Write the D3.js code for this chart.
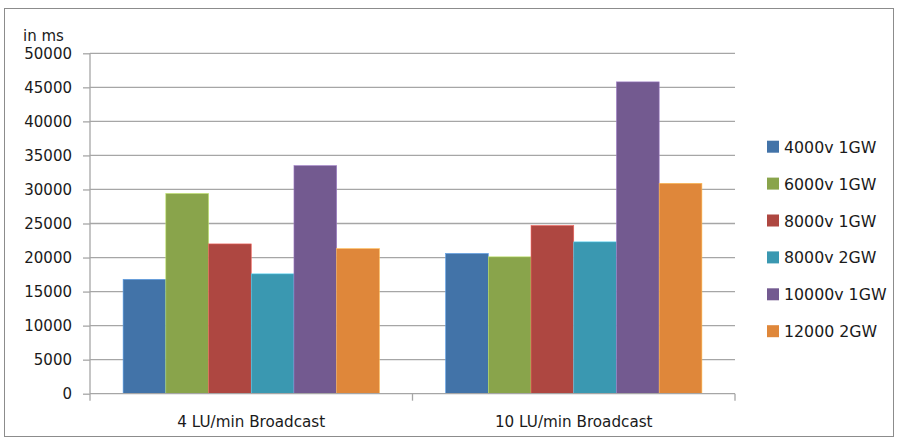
<!DOCTYPE html>
<html>
<head>
<meta charset="utf-8">
<script src="https://cdn.jsdelivr.net/npm/d3@7/dist/d3.min.js"></script>
<style>
  html, body { margin: 0; padding: 0; background: #fff; }
  svg { display: block; font-family: "DejaVu Sans", Verdana, sans-serif; }
</style>
</head>
<body>
<svg id="chart" width="898" height="441"></svg>
<script>
// Response times per scenario, in milliseconds
const categories = ["4 LU/min Broadcast", "10 LU/min Broadcast"];
const seriesNames = ["4000v 1GW", "6000v 1GW", "8000v 1GW", "8000v 2GW", "10000v 1GW", "12000 2GW"];
const seriesColors = ["#4273a8", "#89a44b", "#ae4741", "#3a98b1", "#735a90", "#df873a"];
const s4000v1GW  = [16800, 20600];
const s6000v1GW  = [29400, 20100];
const s8000v1GW  = [22000, 24700];
const s8000v2GW  = [17600, 22300];
const s10000v1GW = [33500, 45800];
const s12000v2GW = [21300, 30900];
const yTicks = [0, 5000, 10000, 15000, 20000, 25000, 30000, 35000, 40000, 45000, 50000];
const seriesValues = [s4000v1GW, s6000v1GW, s8000v1GW, s8000v2GW, s10000v1GW, s12000v2GW];

const svg = d3.select("#chart");
const plot = { left: 90, right: 735, top: 53.3, bottom: 393.7 };

// outer frame
svg.append("rect")
  .attr("x", 4.5).attr("y", 8.5).attr("width", 889).attr("height", 428)
  .attr("fill", "none").attr("stroke", "#8c8c8c").attr("stroke-width", 1);

const y = d3.scaleLinear().domain([0, 50000]).range([plot.bottom, plot.top]);
const x0 = d3.scaleBand().domain(categories).range([plot.left, plot.right]).paddingInner(0).paddingOuter(0);
const x1 = d3.scaleBand().domain(seriesNames).range([0, x0.bandwidth()]).paddingOuter(0.775).paddingInner(0);

// horizontal gridlines
svg.append("g").selectAll("line").data(yTicks.filter(d => d > 0)).join("line")
  .attr("x1", plot.left).attr("x2", plot.right)
  .attr("y1", d => y(d)).attr("y2", d => y(d))
  .attr("stroke", "#a6a6a6").attr("stroke-width", 1.3);

// bars
const groups = svg.append("g").selectAll("g").data(categories).join("g")
  .attr("transform", c => `translate(${x0(c)},0)`);
groups.selectAll("rect")
  .data((c, ci) => seriesNames.map((s, si) => ({ s, si, v: seriesValues[si][ci] })))
  .join("rect")
  .attr("x", d => x1(d.s))
  .attr("width", x1.bandwidth())
  .attr("y", d => y(d.v))
  .attr("height", d => y(0) - y(d.v))
  .attr("fill", d => seriesColors[d.si])
  .attr("stroke", d => d3.color(seriesColors[d.si]).brighter(0.9))
  .attr("stroke-width", 0.6);

// y axis
const yAxis = svg.append("g").attr("transform", `translate(${plot.left},0)`)
  .call(d3.axisLeft(y).tickValues(yTicks).tickSize(7).tickPadding(11).tickFormat(d3.format("d")));
yAxis.select(".domain").attr("stroke", "#a6a6a6").attr("stroke-width", 1.3).attr("d", `M0,${plot.top}V${plot.bottom}`);
yAxis.selectAll(".tick line").attr("stroke", "#a6a6a6").attr("stroke-width", 1.3);
yAxis.selectAll(".tick text").attr("fill", "#1a1a1a").attr("font-size", 15)
  .attr("font-family", "'DejaVu Sans', Verdana, sans-serif");

// x axis
const xAxis = svg.append("g").attr("transform", `translate(0,${plot.bottom})`);
xAxis.append("line").attr("x1", plot.left).attr("x2", plot.right).attr("y1", 0).attr("y2", 0)
  .attr("stroke", "#a6a6a6").attr("stroke-width", 1.3);
xAxis.selectAll("line.sep").data([plot.left, ...categories.map(c => x0(c) + x0.bandwidth())]).join("line")
  .attr("class", "sep")
  .attr("x1", d => d).attr("x2", d => d).attr("y1", 0).attr("y2", 7)
  .attr("stroke", "#a6a6a6").attr("stroke-width", 1.3);
xAxis.selectAll("text").data(categories).join("text")
  .attr("x", c => x0(c) + x0.bandwidth() / 2)
  .attr("y", 33)
  .attr("text-anchor", "middle")
  .attr("font-size", 15.2)
  .attr("fill", "#1a1a1a")
  .text(c => c);

// unit label
svg.append("text").attr("x", 23).attr("y", 41).attr("font-size", 15).attr("fill", "#1a1a1a").text("in ms");

// legend
const legend = svg.append("g").selectAll("g").data(seriesNames).join("g")
  .attr("transform", (d, i) => `translate(767,${146.7 + i * 36.9})`);
legend.append("rect").attr("x", 0).attr("y", -6).attr("width", 12).attr("height", 12)
  .attr("fill", (d, i) => seriesColors[i]);
legend.append("text").attr("x", 17).attr("y", 6).attr("font-size", 15.8).attr("fill", "#1a1a1a").text(d => d);
</script>
</body>
</html>
